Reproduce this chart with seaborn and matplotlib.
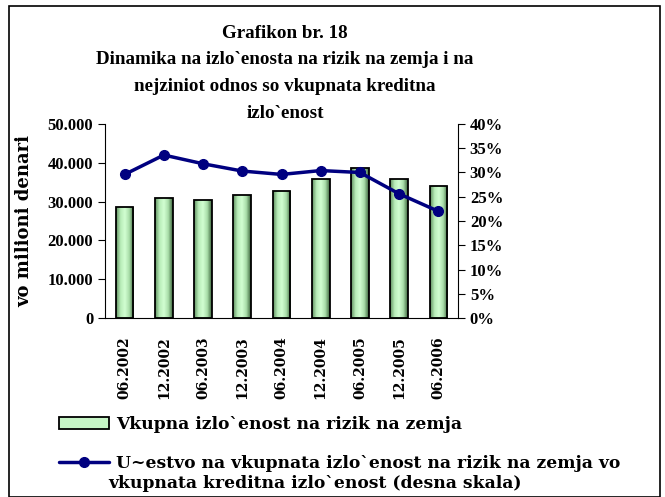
import matplotlib
matplotlib.use("Agg")
import numpy as np
import matplotlib.pyplot as plt
import seaborn as sns
from matplotlib.patches import Patch, Rectangle
from matplotlib.lines import Line2D
from matplotlib.colors import LinearSegmentedColormap
from matplotlib.ticker import FuncFormatter, MultipleLocator

periods = ['06.2002', '12.2002', '06.2003', '12.2003', '06.2004',
           '12.2004', '06.2005', '12.2005', '06.2006']
exposure = [28500, 30800, 30400, 31700, 32700, 35900, 38700, 35800, 34000]
share = [29.6, 33.6, 31.8, 30.3, 29.6, 30.4, 30.0, 25.6, 22.0]

title_lines = ['Grafikon br. 18',
               'Dinamika na izlo`enosta na rizik na zemja i na',
               'nejziniot odnos so vkupnata kreditna',
               'izlo`enost']
bar_label = 'Vkupna izlo`enost na rizik na zemja'
line_label = 'U~estvo na vkupnata izlo`enost na rizik na zemja vo'
line_label2 = 'vkupnata kreditna izlo`enost (desna skala)'

sns.set_style('white')
plt.rcParams['font.family'] = ['Liberation Serif', 'DejaVu Serif']
plt.rcParams['font.weight'] = 'bold'
for k in ['text.color', 'axes.labelcolor', 'xtick.color', 'ytick.color']:
    plt.rcParams[k] = 'black'

navy = '#000080'
green = '#c6f5c6'
grad = LinearSegmentedColormap.from_list('g', ['#5f8f5f', '#b8ecb8', '#d2ffd2', '#a8dca8', '#3c643c'])

fig = plt.figure(figsize=(6.65, 4.97), dpi=100)
ax = fig.add_axes([105 / 665, 1 - 318 / 497, 353 / 665, 194 / 497])

sns.barplot(x=periods, y=exposure, ax=ax, color=green, edgecolor='black',
            linewidth=1.3, width=0.45, saturation=1)
# horizontal shading inside bars
g = np.linspace(0, 1, 64).reshape(1, -1)
for p in ax.patches:
    x0, y0 = p.get_x(), p.get_y()
    im = ax.imshow(g, cmap=grad, aspect='auto', zorder=p.get_zorder() - 0.1,
                   extent=[x0, x0 + p.get_width(), y0, y0 + p.get_height()])
    im.set_clip_path(p)
    p.set_facecolor('none')

ax.set_ylim(0, 50000)
ax.set_xlim(-0.5, len(periods) - 0.5)
ax.yaxis.set_major_locator(MultipleLocator(10000))
ax.yaxis.set_major_formatter(FuncFormatter(lambda v, p: '0' if v == 0 else f'{int(v):,}'.replace(',', '.')))
ax.set_xticks([i + 0.5 for i in range(-1, len(periods))])
ax.set_xticklabels([])
ax.set_xticks(range(len(periods)), minor=True)
ax.set_xticklabels(periods, minor=True, rotation=90, fontsize=10,
                   fontweight='bold', family='DejaVu Serif')
ax.tick_params(axis='x', which='minor', length=0, pad=13)
ax.tick_params(axis='x', which='major', length=5, direction='out', color='black')
ax.tick_params(axis='y', labelsize=12, length=5, direction='out', color='black')
ax.set_ylabel('vo milioni denari', fontsize=13, fontweight='bold',
              family='DejaVu Serif', labelpad=10)
ax.set_xlabel('')
for s in ['top', 'right']:
    ax.spines[s].set_visible(False)
ax.spines['left'].set_color('black')
ax.spines['bottom'].set_color('black')

ax2 = ax.twinx()
ax2.plot(range(len(periods)), share, color=navy, linewidth=2.5,
         marker='o', markersize=7)
ax2.set_ylim(0, 40)
ax2.yaxis.set_major_locator(MultipleLocator(5))
ax2.yaxis.set_major_formatter(FuncFormatter(lambda v, p: f'{int(v)}%'))
ax2.tick_params(axis='y', labelsize=12, length=5, color='black')
for s in ['top', 'left', 'bottom']:
    ax2.spines[s].set_visible(False)
ax2.spines['right'].set_color('black')

for i, line in enumerate(title_lines):
    fig.text(285 / 665, 1 - (37.5 + 26.8 * i) / 497, line, ha='center',
             va='baseline', fontsize=13.7, fontweight='bold')

handles = [Patch(facecolor=green, edgecolor='black', linewidth=1.3),
           Line2D([], [], color=navy, linewidth=2.5, marker='o', markersize=7)]
fig.legend(handles, [bar_label, line_label], loc='upper left',
           bbox_to_anchor=(47 / 665, 1 - 404 / 497), frameon=False,
           labelspacing=1.3, handlelength=2.9, handletextpad=0.45,
           borderpad=0.2, prop={'weight': 'bold', 'size': 12.3, 'family': 'DejaVu Serif'})
fig.text(108 / 665, 1 - 488 / 497, line_label2, ha='left', va='baseline',
         fontsize=12.3, fontweight='bold', family='DejaVu Serif')

fig.patches.append(Rectangle((9 / 665, 0), 651 / 665, 1 - 6 / 497,
                             transform=fig.transFigure, fill=False,
                             edgecolor='black', linewidth=1.2))

fig.savefig('out.png', dpi=100)
